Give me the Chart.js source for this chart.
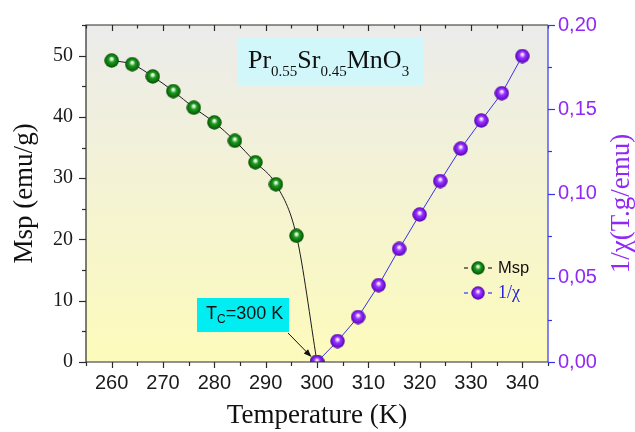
<!DOCTYPE html>
<html>
<head>
<meta charset="utf-8">
<script src="https://cdn.jsdelivr.net/npm/chart.js@4/dist/chart.umd.min.js"></script>
<style>
  html, body { margin: 0; padding: 0; background: #ffffff; }
  #wrap { width: 635px; height: 432px; position: relative; }
</style>
</head>
<body>
<div id="wrap"><canvas id="c" width="635" height="432"></canvas></div>
<script>
// Temperature sweep (K) and measured quantities
const mspTemps = [260, 264, 268, 272, 276, 280, 284, 288, 292, 296, 300];
const mspValues = [49.2, 48.6, 46.6, 44.2, 41.5, 39.1, 36.1, 32.6, 29.0, 20.6, 0];
const invChiTemps = [300, 304, 308, 312, 316, 320, 324, 328, 332, 336, 340];
const invChiValues = [0.000, 0.0124, 0.0267, 0.0456, 0.0671, 0.0875, 0.1074, 0.1266, 0.1433, 0.1595, 0.1816];

// Axis ticks
const xTicks = [260, 270, 280, 290, 300, 310, 320, 330, 340];
const xMinorTicks = [255, 265, 275, 285, 295, 305, 315, 325, 335, 345];
const yTicks = [0, 10, 20, 30, 40, 50];
const yMinorTicks = [5, 15, 25, 35, 45, 55];
const y2Ticks = [0, 0.05, 0.10, 0.15, 0.20];
const y2Minor = [0.025, 0.075, 0.125, 0.175];

const curieTemp = 300;

const PURPLE = '#9128f5';
const BLUE_LINE = '#3434ee';

// Shaded sphere used as the point marker
function makeBall(size, stops) {
  const cv = document.createElement('canvas');
  cv.width = size; cv.height = size;
  const g = cv.getContext('2d');
  const r = size / 2;
  const grad = g.createRadialGradient(r * 1.0, r * 0.75, 0.3, r, r, r);
  stops.forEach(s => grad.addColorStop(s[0], s[1]));
  g.fillStyle = grad;
  g.beginPath();
  g.arc(r, r, r - 0.3, 0, Math.PI * 2);
  g.fill();
  return cv;
}
const greenBall = makeBall(15, [[0, '#ffffff'], [0.16, '#b9e6b9'], [0.38, '#1f9a1f'], [0.75, '#0b700b'], [1, '#044204']]);
const purpleBall = makeBall(15, [[0, '#ffffff'], [0.16, '#dcb8ff'], [0.38, '#9a34ff'], [0.75, '#7212dc'], [1, '#44058e']]);

const frameAndDecor = {
  id: 'frameAndDecor',
  beforeDraw(chart) {
    const { ctx, chartArea: a } = chart;
    const g = ctx.createLinearGradient(0, a.top, 0, a.bottom);
    g.addColorStop(0, '#ebebeb');
    g.addColorStop(1, '#fdfbbb');
    ctx.save();
    ctx.fillStyle = g;
    ctx.fillRect(a.left, a.top, a.right - a.left, a.bottom - a.top);
    ctx.restore();
  },
  afterDraw(chart) {
    const { ctx, chartArea: a, scales } = chart;
    const x = scales.x, y = scales.y, y2 = scales.y2;
    ctx.save();
    // frame
    ctx.lineWidth = 1.2;
    ctx.strokeStyle = '#2a2a2a';
    ctx.beginPath();
    ctx.moveTo(a.right, a.top); ctx.lineTo(a.left, a.top);
    ctx.lineTo(a.left, a.bottom); ctx.lineTo(a.right, a.bottom);
    ctx.stroke();
    // x ticks: outward at bottom, inward at top
    const tick = (x0, y0, x1, y1) => { ctx.beginPath(); ctx.moveTo(x0, y0); ctx.lineTo(x1, y1); ctx.stroke(); };
    xTicks.forEach(v => { const p = Math.round(x.getPixelForValue(v)) + 0.5; tick(p, a.bottom, p, a.bottom + 6); tick(p, a.top, p, a.top + 6); });
    xMinorTicks.forEach(v => { const p = Math.round(x.getPixelForValue(v)) + 0.5; tick(p, a.bottom, p, a.bottom + 4); tick(p, a.top, p, a.top + 3.5); });
    yTicks.forEach(v => { const p = Math.round(y.getPixelForValue(v)) + 0.5; tick(a.left, p, a.left - 7, p); });
    yMinorTicks.forEach(v => { const p = Math.round(y.getPixelForValue(v)) + 0.5; tick(a.left, p, a.left - 4, p); });
    // right axis in blue
    ctx.strokeStyle = BLUE_LINE;
    tick(a.right, a.top, a.right, a.bottom);
    y2Ticks.forEach(v => { const p = Math.round(y2.getPixelForValue(v)) + 0.5; tick(a.right, p, a.right + 7, p); });
    y2Minor.forEach(v => { const p = Math.round(y2.getPixelForValue(v)) + 0.5; tick(a.right, p, a.right + 4, p); });

    // right axis title, reading upwards
    ctx.save();
    ctx.translate(622, (a.top + a.bottom) / 2 + 10);
    ctx.rotate(-Math.PI / 2);
    ctx.fillStyle = PURPLE;
    ctx.font = '27px "Liberation Serif", "Times New Roman", serif';
    ctx.textAlign = 'center';
    ctx.textBaseline = 'middle';
    ctx.fillText('1/\u03C7(T.g/emu)', 0, 0);
    ctx.restore();

    // compound label box
    const bx = a.left + 151, by = a.top + 13;
    ctx.fillStyle = '#d2f7fa';
    ctx.fillRect(bx, by, 186, 47);
    const parts = [['Pr', 0], ['0.55', 1], ['Sr', 0], ['0.45', 1], ['MnO', 0], ['3', 1]];
    let cx = bx + 11;
    const base = by + 30;
    ctx.fillStyle = '#111111';
    ctx.textBaseline = 'alphabetic';
    ctx.textAlign = 'left';
    parts.forEach(([t, sub]) => {
      ctx.font = sub ? '15px "Liberation Serif", "Times New Roman", serif' : '26px "Liberation Serif", "Times New Roman", serif';
      ctx.fillText(t, cx, sub ? base + 8 : base);
      cx += ctx.measureText(t).width;
    });

    // Curie temperature callout
    const tx = a.left + 111, ty = a.top + 273;
    ctx.fillStyle = '#00eef2';
    ctx.fillRect(tx, ty, 92, 34);
    ctx.fillStyle = '#111111';
    let lx = tx + 9;
    const tb = ty + 21;
    ctx.font = '18px "Liberation Sans", Arial, sans-serif';
    ctx.fillText('T', lx, tb); lx += ctx.measureText('T').width;
    ctx.font = '12px "Liberation Sans", Arial, sans-serif';
    ctx.fillText('C', lx, tb + 4); lx += ctx.measureText('C').width;
    ctx.font = '18px "Liberation Sans", Arial, sans-serif';
    ctx.fillText('=' + curieTemp + ' K', lx, tb);

    // arrow to the transition point
    const ex = x.getPixelForValue(curieTemp) - 5.5, ey = y.getPixelForValue(0) - 5;
    const sx = tx + 91, sy = ty + 35;
    const ang = Math.atan2(ey - sy, ex - sx);
    ctx.strokeStyle = '#111111';
    ctx.lineWidth = 1;
    ctx.beginPath(); ctx.moveTo(sx, sy); ctx.lineTo(ex - 6 * Math.cos(ang), ey - 6 * Math.sin(ang)); ctx.stroke();
    ctx.fillStyle = '#111111';
    ctx.beginPath();
    ctx.moveTo(ex, ey);
    ctx.lineTo(ex - 8 * Math.cos(ang) + 3 * Math.sin(ang), ey - 8 * Math.sin(ang) - 3 * Math.cos(ang));
    ctx.lineTo(ex - 8 * Math.cos(ang) - 3 * Math.sin(ang), ey - 8 * Math.sin(ang) + 3 * Math.cos(ang));
    ctx.closePath(); ctx.fill();

    // legend
    const lgx = a.left + 378, lgy = a.top + 243;
    const rows = [
      { ball: greenBall, dash: '#222222', text: 'Msp', color: '#111111', font: '16.5px "Liberation Sans", Arial, sans-serif' },
      { ball: purpleBall, dash: BLUE_LINE, text: '1/\u03C7', color: '#2222dd', font: '18px "Liberation Serif", "Times New Roman", serif' }
    ];
    rows.forEach((r, i) => {
      const ry = lgy + i * 25;
      ctx.strokeStyle = r.dash; ctx.lineWidth = 1.2;
      tick(lgx, ry, lgx + 4, ry);
      tick(lgx + 24, ry, lgx + 28, ry);
      ctx.drawImage(r.ball, lgx + 7, ry - 7, 14, 14);
      ctx.fillStyle = r.color; ctx.font = r.font; ctx.textBaseline = 'middle';
      ctx.fillText(r.text, lgx + 34, ry);
    });
    ctx.restore();
  }
};

const serif = '"Liberation Serif", "Times New Roman", serif';
const sans = '"Liberation Sans", Arial, sans-serif';

new Chart(document.getElementById('c').getContext('2d'), {
  type: 'line',
  data: {
    datasets: [
      {
        label: '1/\u03C7',
        data: invChiTemps.map((t, i) => ({ x: t, y: invChiValues[i] })),
        yAxisID: 'y2',
        borderColor: BLUE_LINE,
        borderWidth: 1,
        pointStyle: purpleBall,
        tension: 0,
        order: 0
      },
      {
        label: 'Msp',
        data: mspTemps.map((t, i) => ({ x: t, y: mspValues[i] })),
        yAxisID: 'y',
        borderColor: '#1c1c1c',
        borderWidth: 1,
        pointStyle: greenBall,
        cubicInterpolationMode: 'monotone',
        order: 1
      }
    ]
  },
  options: {
    responsive: false,
    animation: false,
    devicePixelRatio: 1,
    layout: { padding: { top: 22, left: 0, right: 0, bottom: 0 } },
    plugins: { legend: { display: false }, tooltip: { enabled: false } },
    scales: {
      x: {
        type: 'linear', position: 'bottom', min: 255, max: 345,
        afterBuildTicks: s => { s.ticks = xTicks.map(v => ({ value: v })); },
        afterFit: s => { s.height = 70; },
        grid: { display: false, drawTicks: false },
        border: { display: false },
        ticks: { font: { family: sans, size: 20 }, color: '#1a1a1a', padding: 9, maxRotation: 0, callback: v => String(v) },
        title: { display: true, text: 'Temperature (K)', font: { family: serif, size: 27 }, color: '#111111', padding: { top: 0, bottom: 0 } }
      },
      y: {
        type: 'linear', position: 'left', min: 0, max: 55,
        afterBuildTicks: s => { s.ticks = yTicks.map(v => ({ value: v })); },
        afterFit: s => { s.width = 86; },
        grid: { display: false, drawTicks: false },
        border: { display: false },
        ticks: { font: { family: serif, size: 20 }, color: '#1a1a1a', padding: 13, callback: v => String(v) },
        title: { display: true, text: 'Msp (emu/g)', font: { family: serif, size: 27 }, color: '#111111', padding: { top: 9, bottom: 0 } }
      },
      y2: {
        type: 'linear', position: 'right', min: 0, max: 0.2,
        afterBuildTicks: s => { s.ticks = y2Ticks.map(v => ({ value: v })); },
        afterFit: s => { s.width = 87; },
        grid: { display: false, drawTicks: false },
        border: { display: false },
        ticks: { font: { family: sans, size: 20 }, color: PURPLE, padding: 10, callback: v => v.toFixed(2).replace('.', ',') }
      }
    }
  },
  plugins: [frameAndDecor]
});
</script>
</body>
</html>
